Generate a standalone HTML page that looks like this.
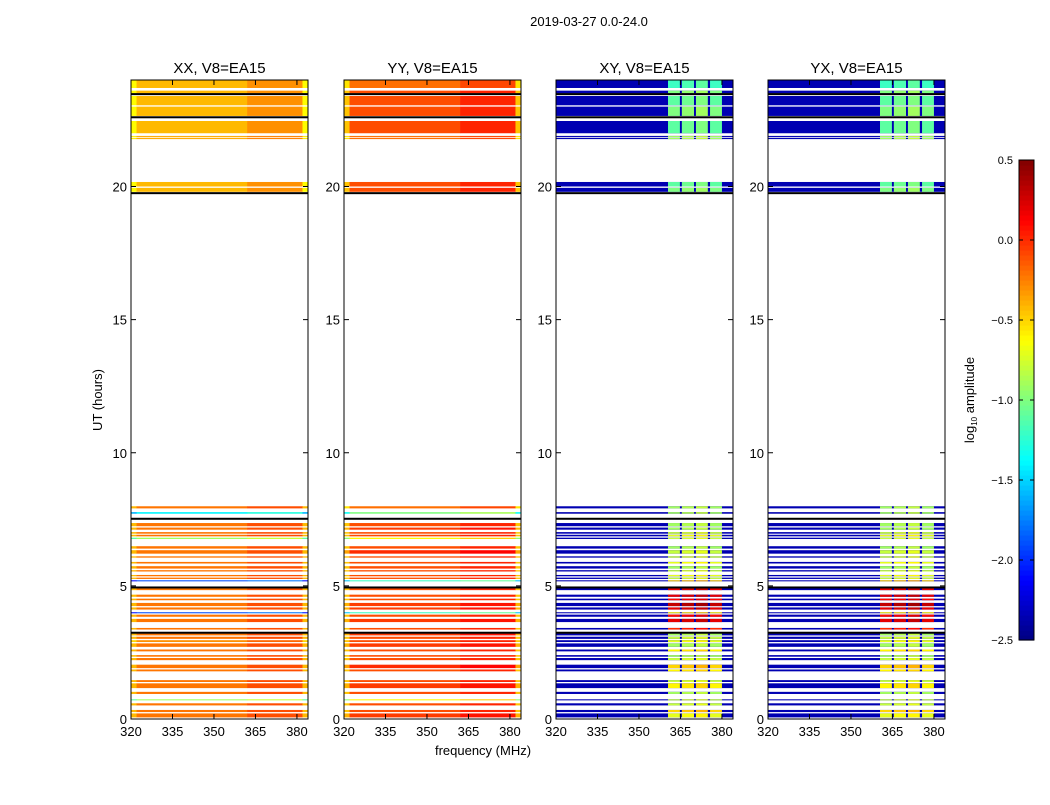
<!DOCTYPE html>
<html><head><meta charset="utf-8"><style>
body{margin:0;background:#fff;width:1050px;height:800px;overflow:hidden}
text{font-family:"Liberation Sans","DejaVu Sans",sans-serif;fill:#000}
</style></head><body>
<svg id="chart" width="1050" height="800" xmlns="http://www.w3.org/2000/svg">
<text x="589" y="26" font-size="13" text-anchor="middle">2019-03-27 0.0-24.0</text>
<text x="0" y="0" font-size="13" text-anchor="middle" transform="translate(102,400) rotate(-90)">UT (hours)</text>
<text x="483" y="755" font-size="13" text-anchor="middle">frequency (MHz)</text>
<g id="panels"></g>
<g id="cbar"></g>
</svg>
<script>
// ---- data ----
const panelTitles = ["XX, V8=EA15","YY, V8=EA15","XY, V8=EA15","YX, V8=EA15"];
const xTicks = [320,335,350,365,380];
const yTicks = [0,5,10,15,20];
const cbarTicks = [0.5,0.0,-0.5,-1.0,-1.5,-2.0,-2.5];
// time bands [start,end] in hours
const bandStart = [0.06,0.26,0.51,0.70,0.94,1.16,1.39,1.79,1.91,2.21,2.34,2.54,2.71,2.89,3.01,3.14,3.36,3.64,3.84,3.97,4.11,4.24,4.46,4.59,4.84,5.17,5.26,5.36,5.54,5.65,5.84,6.06,6.21,6.40,6.76,6.86,6.96,7.11,7.24,7.71,7.91,
 19.80,20.00,21.78,21.86,22.00,22.65,23.05,23.50,23.70];
const bandEnd = [0.21,0.34,0.59,0.74,1.02,1.34,1.46,1.86,2.04,2.29,2.40,2.61,2.84,2.96,3.09,3.21,3.42,3.76,3.92,4.01,4.19,4.36,4.52,4.67,4.94,5.21,5.31,5.41,5.59,5.74,5.90,6.11,6.34,6.49,6.81,6.92,7.02,7.19,7.36,7.77,7.99,
 19.95,20.17,21.83,21.90,22.46,23.00,23.40,23.60,24.00];
// row values (log10 amplitude) for XX and YY
const xxVals = [-0.22,-0.22,-0.22,-0.9,-0.22,-0.22,-0.22,-0.22,-0.22,-0.22,-0.22,-0.22,-0.22,-0.3,-0.22,-0.22,-0.22,-0.22,-0.22,-1.9,-0.22,-0.22,-0.22,-0.22,-0.22,-1.9,-0.22,-0.22,-0.22,-0.22,-0.22,-0.22,-0.22,-0.22,-0.9,-0.22,-0.22,-0.22,-0.22,-1.4,-0.22,
 -0.42,-0.42,-0.38,-0.38,-0.42,-0.42,-0.42,-0.42,-0.42];
const yyVals = [-0.05,-0.1,-0.1,-0.6,-0.1,-0.05,-0.1,-0.1,0.0,-0.1,-0.1,-0.1,-0.05,-0.1,-0.1,-0.05,-0.1,-0.05,-0.1,-1.2,-0.05,-0.05,-0.1,-0.1,-0.1,-1.2,-0.1,-0.1,-0.1,-0.1,-0.1,-0.1,0.0,-0.1,-0.6,-0.1,-0.1,-0.05,-0.1,-1.0,-0.2,
 -0.1,-0.1,-0.2,-0.2,-0.1,-0.1,-0.1,-0.1,-0.2];
// cross-hand value inside the sub-bands (XY / YX)
const crossVals = [-0.7,-0.5,-0.8,-0.8,-0.9,-0.6,-0.8,-0.6,-0.5,-0.8,-0.9,-0.6,-0.9,-0.7,-0.8,-0.9,0.0,0.2,0.1,-0.6,0.2,0.3,0.1,0.2,0.2,-0.5,-0.8,-0.7,-0.8,-0.9,-0.7,-0.8,-0.8,-0.9,-0.8,-0.7,-0.8,-0.9,-0.9,-0.9,-0.9,
 -1.0,-1.1,-0.9,-0.9,-1.1,-1.0,-1.1,-1.0,-1.2];
const crossBase = -2.35;
// black separator rows (hours)
const blackRows = [3.24,4.94,7.52,19.75,22.60,23.47];
// spectral profile segments: start, end (MHz) and offset for parallel hands
const parStart = [320,322,362,382];
const parEnd   = [322,362,382,384];
const xxOffset = [-0.2,0,0.12,-0.2];
const yyOffset = [-0.35,0,0.12,-0.35];
// cross-hand sub-bands (MHz)
const subStart = [360.5,365.5,370.6,375.7];
const subEnd   = [364.8,369.9,374.9,380.0];
const subOffset = [0.0,0.05,0.1,0.0];

// ---- layout ----
const panelX = [131,344,556,768], panelW = 177, yTop = 80, yBot = 719;
const fMin = 320, fMax = 384, tMin = 0, tMax = 24;
function jet(v){
  let t=(v+2.5)/3; t=Math.max(0,Math.min(1,t));
  const f=x=>Math.max(0,Math.min(1,x));
  const r=f(1.5-Math.abs(4*t-3)), g=f(1.5-Math.abs(4*t-2)), b=f(1.5-Math.abs(4*t-1));
  return `rgb(${Math.round(r*255)},${Math.round(g*255)},${Math.round(b*255)})`;
}
const NS="http://www.w3.org/2000/svg";
function el(tag,attrs,parent){const e=document.createElementNS(NS,tag);for(const k in attrs)e.setAttribute(k,attrs[k]);parent.appendChild(e);return e;}
const root=document.getElementById('panels');
panelTitles.forEach((title,p)=>{
  const x0=panelX[p];
  const xs=f=>x0+(f-fMin)/(fMax-fMin)*panelW;
  const ys=t=>yBot-(t-tMin)/(tMax-tMin)*(yBot-yTop);
  const g=el('g',{},root);
  
  
  bandStart.forEach((t0,i)=>{
    const t1=bandEnd[i];
    const y=ys(t1), h=Math.max(1,ys(t0)-ys(t1));
    if(p<2){
      const base=p===0?xxVals[i]:yyVals[i];
      const offs=p===0?xxOffset:yyOffset;
      parStart.forEach((f0,k)=>{
        const r=el('rect',{x:xs(f0),y:y,width:xs(parEnd[k])-xs(f0)+0.3,height:h,fill:jet(base+offs[k])},g);
        
        
      });
    } else {
      const r=el('rect',{x:x0,y:y,width:panelW,height:h,fill:jet(crossBase)},g);
      
      
      subStart.forEach((f0,k)=>{
        const c=el('rect',{x:xs(f0),y:y,width:xs(subEnd[k])-xs(f0),height:h,fill:jet(crossVals[i]+subOffset[k])},g);
        
        
      });
    }
  });
  blackRows.forEach(t=>{
    const l=el('rect',{x:x0,y:ys(t)-1,width:panelW,height:2,fill:'#000'},g);
    
    
  });
  const fr=el('rect',{x:x0,y:yTop,width:panelW,height:yBot-yTop,fill:'none',stroke:'#000','stroke-width':1},g);
  
  
  const tt=el('text',{x:x0+panelW/2,y:73,'font-size':15,'text-anchor':'middle'},g);
  tt.textContent=title;
  
  
  xTicks.forEach(f=>{
    const X=xs(f);
    el('line',{x1:X,x2:X,y1:yBot,y2:yBot-5,stroke:'#000'},g);
    el('line',{x1:X,x2:X,y1:yTop,y2:yTop+5,stroke:'#000'},g);
    const tx=el('text',{x:X,y:yBot+17,'font-size':13,'text-anchor':'middle'},g);
    tx.textContent=f;
    
    
  });
  yTicks.forEach(t=>{
    const Y=ys(t);
    el('line',{x1:x0,x2:x0+5,y1:Y,y2:Y,stroke:'#000'},g);
    el('line',{x1:x0+panelW,x2:x0+panelW-5,y1:Y,y2:Y,stroke:'#000'},g);
    const ty=el('text',{x:x0-4,y:Y+5,'font-size':13,'text-anchor':'end'},g);
    ty.textContent=t;
    
    
  });
});
// colorbar
const cb=document.getElementById('cbar');
const cbX=1019,cbW=15,cbTop=160,cbBot=640;
const cys=v=>cbBot-(v+2.5)/3*(cbBot-cbTop);
for(let i=0;i<96;i++){
  const v0=-2.5+i*3/96;
  el('rect',{x:cbX,y:cys(v0+3/96),width:cbW,height:(cbBot-cbTop)/96+0.6,fill:jet(v0+1.5/96)},cb);
}
el('rect',{x:cbX,y:cbTop,width:cbW,height:cbBot-cbTop,fill:'none',stroke:'#000'},cb);
cbarTicks.forEach(v=>{
  const Y=cys(v);
  el('line',{x1:cbX,x2:cbX+4,y1:Y,y2:Y,stroke:'#000'},cb);
  el('line',{x1:cbX+cbW,x2:cbX+cbW-4,y1:Y,y2:Y,stroke:'#000'},cb);
  const t=el('text',{x:1013,y:Y+4,'font-size':11,'text-anchor':'end'},cb);
  t.textContent=v.toFixed(1).replace('-','\u2212');
  
  
});
const lab=el('text',{x:0,y:0,'font-size':13,'text-anchor':'middle',transform:'translate(974,400) rotate(-90)'},cb);
lab.innerHTML='log<tspan font-size="8" dy="3">10</tspan><tspan dy="-3"> amplitude</tspan>';


</script>
</body></html>
